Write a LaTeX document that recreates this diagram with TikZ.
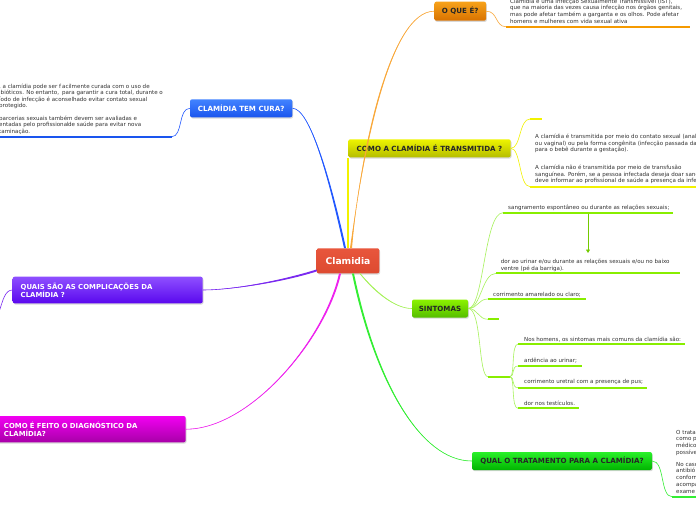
\documentclass[tikz,border=0pt]{standalone}
\usepackage{fontspec}
\setmainfont{DejaVu Sans}
\usetikzlibrary{shadows,arrows.meta}
\definecolor{cred}{HTML}{E8563C}
\definecolor{credB}{HTML}{DD4A30}
\definecolor{orangeT}{HTML}{F7A21A}
\definecolor{orangeB}{HTML}{D87200}
\definecolor{orangeL}{HTML}{F9A83A}
\definecolor{orangeU}{HTML}{F59A00}
\definecolor{blueT}{HTML}{4283FF}
\definecolor{blueB}{HTML}{1A55EE}
\definecolor{blueL}{HTML}{2258FF}
\definecolor{yelT}{HTML}{EEF400}
\definecolor{yelB}{HTML}{B5BD00}
\definecolor{yelL}{HTML}{F2F200}
\definecolor{sinT}{HTML}{8CF200}
\definecolor{sinB}{HTML}{55BE00}
\definecolor{sinL}{HTML}{A6F25A}
\definecolor{sinU}{HTML}{88EE00}
\definecolor{traT}{HTML}{2AF02A}
\definecolor{traB}{HTML}{00B400}
\definecolor{traL}{HTML}{33EE33}
\definecolor{purT}{HTML}{8E4FFF}
\definecolor{purB}{HTML}{5A08EE}
\definecolor{purL}{HTML}{7A2AF0}
\definecolor{magT}{HTML}{F200F2}
\definecolor{magB}{HTML}{A800A8}
\definecolor{magL}{HTML}{EE22EE}
\definecolor{notegray}{HTML}{333333}
\begin{document}
\begin{tikzpicture}[x=1pt,y=-1pt,
  topic/.style={rounded corners=2pt, inner sep=0pt, font=\fontsize{7.1}{8.2}\selectfont\bfseries,
    drop shadow={opacity=0.3,shadow xshift=0.8pt,shadow yshift=-1.2pt}},
  darktext/.style={text=black!85},
  note/.style={inner sep=0pt, anchor=north west, align=left, font=\fontsize{5.55}{6.7}\selectfont,
    text=notegray, execute at begin node=\strut, yshift=-2pt},
  notetight/.style={note, font=\fontsize{5.55}{6.4}\selectfont},
  mainline/.style={line width=0.6pt},
  subline/.style={line width=0.6pt},
  uline/.style={line width=2.3pt},
  relarrow/.style={line width=0.8pt, draw=sinU!85!black, -{Triangle[length=3.5pt,width=4pt]}},
]
\useasboundingbox (0,0) rectangle (696,520);
\fill[white] (0,0) rectangle (696,520);

% ---------- topic nodes ----------
\node[topic, top color=cred, bottom color=credB, text=white, minimum width=62.6pt, minimum height=25pt,
      font=\fontsize{9.2}{10}\selectfont\bfseries] (c) at (348,260.8) {Clamidia};
\node[topic, top color=orangeT, bottom color=orangeB, darktext, minimum width=51.7pt, minimum height=19pt] (oque) at (460.2,11.2) {O QUE É?};
\node[topic, top color=blueT, bottom color=blueB, text=white, minimum width=102.3pt, minimum height=18pt] (cura) at (241.2,108.3) {CLAMÍDIA TEM CURA?};
\node[topic, top color=yelT, bottom color=yelB, darktext, minimum width=162.4pt, minimum height=18pt] (trans) at (429.5,148.3) {COMO A CLAMÍDIA É TRANSMITIDA ?};
\node[topic, top color=sinT, bottom color=sinB, darktext, minimum width=56pt, minimum height=18pt] (sint) at (440,308.5) {SINTOMAS};
\node[topic, top color=traT, bottom color=traB, darktext, minimum width=180pt, minimum height=18pt] (trat) at (562,461) {QUAL O TRATAMENTO PARA A CLAMÍDIA?};
\node[topic, top color=purT, bottom color=purB, text=white, text width=174pt, inner xsep=8pt, align=left, minimum height=26.6pt,
      font=\fontsize{6.9}{8.2}\selectfont\bfseries] (compl) at (107.7,290) {QUAIS SÃO AS COMPLICAÇÕES DA\\CLAMÍDIA ?};
\node[topic, top color=magT, bottom color=magB, text=white, text width=173.7pt, inner xsep=8pt, align=left, minimum height=26.3pt,
      font=\fontsize{6.9}{7.6}\selectfont\bfseries] (diag) at (90.85,429.2) {COMO É FEITO O DIAGNÓSTICO DA\\CLAMÍDIA?};

% ---------- main connectors (tapered) ----------
\fill[orangeL] ([xshift=2pt]c.north) .. controls (364,150) and (390,11.2) .. (oque.west)
   .. controls (390,11.2) and (360,150) .. ([xshift=4pt]c.north) -- cycle;
\draw[mainline, orangeL] ([xshift=3pt]c.north) .. controls (362,150) and (390,11.2) .. (oque.west);
\fill[blueL] ([xshift=-4pt]c.north) .. controls (329,180) and (310,108.3) .. (cura.east)
   .. controls (310,108.3) and (331,180) .. ([xshift=-2pt]c.north) -- cycle;
\draw[mainline, blueL] ([xshift=-3pt]c.north) .. controls (330,180) and (310,108.3) .. (cura.east);
\draw[line width=1.2pt, yelL] (c.north) -- (c.north |- trans.south);
\fill[purL] ([yshift=2pt]c.south west) .. controls (280,283) and (230,290) .. (compl.east)
   .. controls (230,290) and (280,281) .. ([yshift=4pt]c.south west) -- cycle;
\draw[mainline, purL] ([yshift=3pt]c.south west) .. controls (280,282) and (230,290) .. (compl.east);
\fill[magL] ([xshift=-9pt]c.south) .. controls (324,340) and (250,429.2) .. (diag.east)
   .. controls (250,429.2) and (326,340) .. ([xshift=-7pt]c.south) -- cycle;
\draw[mainline, magL] ([xshift=-8pt]c.south) .. controls (325,340) and (250,429.2) .. (diag.east);
\fill[sinL] ([xshift=11.2pt,yshift=0.6pt]c.south) .. controls (374.3,292.7) and (395,308.5) .. (sint.west)
   .. controls (395,308.5) and (375.7,291.3) .. ([xshift=12.8pt,yshift=-0.6pt]c.south) -- cycle;
\draw[mainline, sinL] ([xshift=12pt]c.south) .. controls (375,292) and (395,308.5) .. (sint.west);
\fill[traL] ([xshift=4pt]c.south) .. controls (374,380) and (420,461) .. (trat.west)
   .. controls (420,461) and (376,380) .. ([xshift=6pt]c.south) -- cycle;
\draw[mainline, traL] ([xshift=5pt]c.south) .. controls (375,380) and (420,461) .. (trat.west);

% ---------- O QUE E ----------
\coordinate (uoque) at (506,26.7);
\coordinate (uoqueE) at (690,26.7);
\draw[subline, orangeL] (oque.east) .. controls (498,11.2) and (495,26.7) .. (uoque);
\draw[uline, orangeU] (uoque) -- (uoqueE);
\node[note, yshift=0.5pt] (noque) at (510,-3) {Clamídia é uma Infecção Sexualmente Transmissível (IST),\\que na maioria das vezes causa infecção nos órgãos genitais,\\mas pode afetar também a garganta e os olhos. Pode afetar\\homens e mulheres com vida sexual ativa};

% ---------- CURA ----------
\coordinate (ucura) at (171.7,136.7);
\coordinate (ucuraE) at (-2,136.7);
\draw[subline, blueL] (cura.west) .. controls (178,108.3) and (183,136.7) .. (ucura);
\draw[uline, blueB] (ucura) -- (ucuraE);
\node[notetight] (ncura1) at (-1,81.7) {, a clamídia pode ser f\\ibióticos. No entanto,\\íodo de infecção é acon\\protegido.};
\node[notetight] (ncura2) at (-1,113.7) {parcerias sexuais também devem ser avaliadas e\\entadas pelo profissional\\taminação.};
\node[notetight] (ncura3) at (62,81.7) {acilmente curada com o uso de\\para garantir a cura total, durante o};
\node[notetight] (ncura4) at (65,94.5) {selhado evitar contato sexual};
\node[notetight] (ncura5) at (68,120.1) {de saúde para evitar nova};

% ---------- TRANSMITIDA ----------
\coordinate (utr0) at (530,119);
\coordinate (utr0E) at (542,119);
\coordinate (utr1) at (530,186.7);
\coordinate (utr1E) at (698,186.7);
\draw[subline, yelL] (trans.east) .. controls (521,148.3) and (519,119) .. (utr0);
\draw[subline, yelL] (trans.east) .. controls (521,148.3) and (519,186.7) .. (utr1);
\draw[uline, yelL] (utr0) -- (utr0E);
\draw[uline, yelL] (utr1) -- (utr1E);
\node[note] (ntr1) at (535,131.7) {A clamídia é transmitida por meio do contato sexual (anal\\ou vaginal) ou pela forma congênita (infecção passada da\\para o bebê durante a gestação).};
\node[note] (ntr2) at (535,162.7) {A clamídia não é transmitida por meio de transfusão\\sanguínea. Porém, se a pessoa infectada deseja doar sang\\deve informar ao profissional de saúde a presença da infe};

% ---------- SINTOMAS ----------
\coordinate (us1) at (503,212.7); \coordinate (us1E) at (673,212.7);
\coordinate (us2) at (496,273.3); \coordinate (us2E) at (680,273.3);
\coordinate (us3) at (488,299);   \coordinate (us3E) at (586,299);
\coordinate (us4) at (488,319.3); \coordinate (us4E) at (499,319.3);
\coordinate (us5) at (488,376.7); \coordinate (us5E) at (510,376.7);
\draw[subline, sinL] (sint.east) .. controls (484,308.5) and (484,212.7) .. (us1);
\draw[subline, sinL] (sint.east) .. controls (481,308.5) and (482,273.3) .. (us2);
\draw[subline, sinL] (sint.east) .. controls (478,308.5) and (478,299) .. (us3);
\draw[subline, sinL] (sint.east) .. controls (478,308.5) and (478,319.3) .. (us4);
\draw[subline, sinL] (sint.east) .. controls (482,308.5) and (478,376.7) .. (us5);
\foreach \a/\b in {us1/us1E,us2/us2E,us3/us3E,us4/us4E,us5/us5E}{\draw[uline, sinU] (\a) -- (\b);}
\node[note] (ns1) at (508,202.7) {sangramento espontâneo ou durante as relações sexuais;};
\node[note] (ns2) at (500.7,257.4) {dor ao urinar e/ou durante as relações sexuais e/ou no baixo\\ventre (pé da barriga).};
\node[note] (ns3) at (493,289.4) {corrimento amarelado ou claro;};
\coordinate (ar1) at (588,213.5);
\coordinate (ar2) at (588,253);
\draw[relarrow] (ar1) -- (ar2);

\coordinate (uh1) at (518,344);   \coordinate (uh1E) at (685,344);
\coordinate (uh2) at (518,366);   \coordinate (uh2E) at (582,366);
\coordinate (uh3) at (518,387.7); \coordinate (uh3E) at (647,387.7);
\coordinate (uh4) at (518,408.3); \coordinate (uh4E) at (579,408.3);
\foreach \a in {uh1,uh2,uh3,uh4}{\draw[subline, sinL] (us5E) .. controls (515,376.7) and (511,376.7 |- \a) .. (\a);}
\foreach \a/\b in {uh1/uh1E,uh2/uh2E,uh3/uh3E,uh4/uh4E}{\draw[uline, sinU] (\a) -- (\b);}
\node[note] (nh1) at (524,335) {Nos homens, os sintomas mais comuns da clamídia são:};
\node[note] (nh2) at (524,356) {ardência ao urinar;};
\node[note] (nh3) at (524,376.7) {corrimento uretral com a presença de pus;};
\node[note] (nh4) at (524,398.4) {dor nos testículos.};

% ---------- TRATAMENTO ----------
\coordinate (utrat) at (672,496.7);
\coordinate (utratE) at (698,496.7);
\draw[subline, traL] (trat.east) .. controls (665,461) and (660,496.7) .. (utrat);
\draw[uline, traL] (utrat) -- (utratE);
\node[note] (ntrat1) at (676,427.7) {O trata\\como p\\médico\\possíve};
\node[note] (ntrat2) at (676,460) {No caso\\antibió\\conform\\acompa\\exame};

% ---------- COMPLICACOES ----------
\coordinate (pend) at (-1,312);
\draw[subline, purL] (compl.west) .. controls (5,290) and (3,300) .. (pend);
\end{tikzpicture}
\end{document}
